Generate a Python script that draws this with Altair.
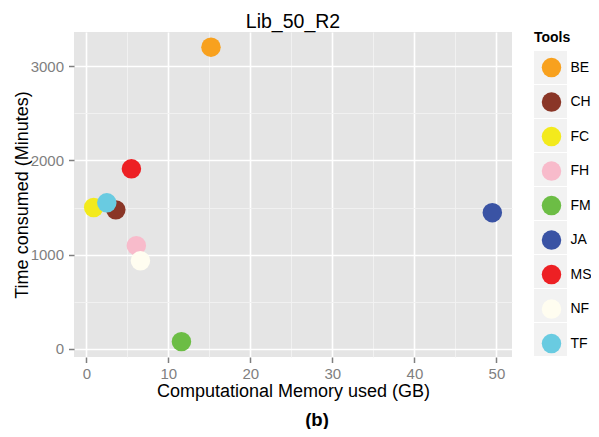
import altair as alt
import pandas as pd

# ---- data ----
tools = ["BE", "CH", "FC", "FH", "FM", "JA", "MS", "NF", "TF"]
memory_gb = [15.2, 3.6, 0.9, 6.1, 11.6, 49.5, 5.5, 6.6, 2.5]
time_min = [3200, 1475, 1500, 1095, 78, 1445, 1910, 935, 1550]
tool_colors = ["#F8A11E", "#8A3627", "#F3EA1C", "#F8BBCB", "#6CBD45",
               "#3A53A4", "#ED2024", "#FFFDF0", "#69CBE1"]
x_ticks = [0, 10, 20, 30, 40, 50]
x_minor = [5, 15, 25, 35, 45]
y_ticks = [0, 1000, 2000, 3000]
y_minor = [500, 1500, 2500]
caption = ["(b)"]

df = pd.DataFrame({"Tool": tools, "Memory": memory_gb, "Time": time_min})
cap_df = pd.DataFrame({"label": caption})
key_domain = ["key_" + t for t in tools]

FONT = "Liberation Sans"
GREY = "#7F7F7F"
xs = alt.Scale(domain=[-1.5, 51.9], nice=False, zero=False)
ys = alt.Scale(domain=[-85, 3361], nice=False, zero=False)

axis_style = dict(labelFont=FONT, labelFontSize=15, labelColor=GREY,
                  tickColor=GREY, tickSize=5.5, tickWidth=1.5, domain=False,
                  gridColor="white", gridWidth=1.6, titleFont=FONT, titleFontSize=18,
                  titleFontWeight="normal", titleColor="black")

# minor grid (light) via secondary axes
minor = alt.Chart(df).mark_point(opacity=0).encode(
    x=alt.X("Memory:Q", scale=xs, axis=alt.Axis(orient="top", values=x_minor, grid=True,
            gridColor="#F2F2F2", gridWidth=0.9, labels=False, ticks=False, domain=False, title=None)),
    y=alt.Y("Time:Q", scale=ys, axis=alt.Axis(orient="right", values=y_minor, grid=True,
            gridColor="#F2F2F2", gridWidth=0.9, labels=False, ticks=False, domain=False, title=None)),
)

# legend key background boxes (empty layer that only provides a legend)
boxes = alt.Chart(df).transform_calculate(Key="'key_' + datum.Tool").transform_filter("false").mark_point(
    filled=True, shape="square", color="#F2F2F2", opacity=1).encode(
    shape=alt.Shape("Key:N", scale=alt.Scale(domain=key_domain, range=["square"] * len(tools)),
        legend=alt.Legend(title="Tools", orient="none", legendX=460, legendY=-1,
                          symbolSize=1089, symbolFillColor="#F2F2F2", symbolStrokeWidth=0,
                          symbolOpacity=1, labelExpr="''", rowPadding=1, padding=0,
                          titleFont=FONT, titleFontSize=14, titleFontWeight="bold",
                          titleColor="black", titlePadding=6, zindex=1)),
)

points = alt.Chart(df).mark_circle(size=380, opacity=1).encode(
    x=alt.X("Memory:Q", scale=xs, title="Computational Memory used (GB)",
            axis=alt.Axis(values=x_ticks, grid=True, format="d", labelPadding=4,
                          titlePadding=1, **axis_style)),
    y=alt.Y("Time:Q", scale=ys, title="Time consumed (Minutes)",
            axis=alt.Axis(values=y_ticks, grid=True, format="d", labelPadding=5,
                          titlePadding=-1, **axis_style)),
    color=alt.Color("Tool:N", scale=alt.Scale(domain=tools, range=tool_colors),
        legend=alt.Legend(title=None, orient="none", legendX=467.5, legendY=25.6,
                          symbolType="circle", symbolSize=380, symbolOpacity=1,
                          symbolStrokeWidth=0, rowPadding=14.5, padding=0,
                          labelFont=FONT, labelFontSize=14, labelColor="black",
                          labelOffset=9, zindex=2)),
)

cap = alt.Chart(cap_df).mark_text(font=FONT, fontSize=18.5, fontWeight="bold", color="black").encode(
    text="label:N", x=alt.value(243), y=alt.value(388)
)

chart = alt.layer(minor, boxes, points, cap).resolve_axis(
    x="independent", y="independent"
).properties(
    width=438, height=325,
    autosize=alt.AutoSizeParams(type="none"),
    padding={"left": 66, "top": 24, "right": 79, "bottom": 72},
    view=alt.ViewBackground(fill="#E5E5E5", stroke=None),
    title=alt.TitleParams("Lib_50_R2", font=FONT, fontSize=19.5, fontWeight="normal",
                          color="black", anchor="middle", offset=-1),
)

chart.save("out.html", embed_options={"renderer": "svg", "actions": False})
